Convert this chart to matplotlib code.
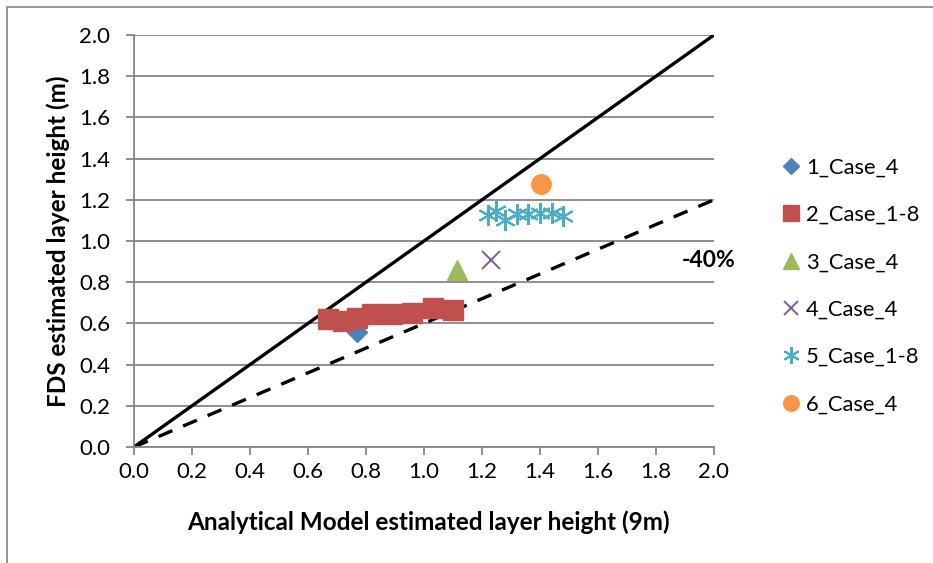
import matplotlib
matplotlib.use("Agg")
import matplotlib.pyplot as plt
from matplotlib.patches import Rectangle

plt.rcParams['font.family'] = ['Lato', 'DejaVu Sans']

# ---- data ----
s1_x = [0.77]
s1_y = [0.56]
s2_x = [0.67, 0.72, 0.77, 0.82, 0.89, 0.96, 1.03, 1.10]
s2_y = [0.62, 0.61, 0.625, 0.645, 0.645, 0.65, 0.673, 0.665]
s3_x = [1.115]
s3_y = [0.86]
s4_x = [1.23]
s4_y = [0.91]
s5_x = [1.22, 1.25, 1.28, 1.32, 1.36, 1.40, 1.44, 1.48]
s5_y = [1.125, 1.145, 1.10, 1.13, 1.13, 1.135, 1.135, 1.12]
s6_x = [1.405]
s6_y = [1.275]
labels = ["1_Case_4", "2_Case_1-8", "3_Case_4", "4_Case_4", "5_Case_1-8", "6_Case_4"]
ref_x = [0.0, 2.0]
ref_y = [0.0, 2.0]
minus40_y = [0.0, 1.2]
ticks = [0.0, 0.2, 0.4, 0.6, 0.8, 1.0, 1.2, 1.4, 1.6, 1.8, 2.0]

W, H = 933, 563
fig = plt.figure(figsize=(W / 100, H / 100), dpi=100)
ax = fig.add_axes([134 / W, 1 - 447 / H, (714 - 134) / W, (447 - 35) / H])

grid_c = '#868686'
ax.set_xlim(0, 2)
ax.set_ylim(0, 2)
ax.set_xticks(ticks)
ax.set_yticks(ticks)
ax.set_xticklabels([f"{t:.1f}" for t in ticks])
ax.set_yticklabels([f"{t:.1f}" for t in ticks])
ax.yaxis.grid(True, color=grid_c, lw=1.3, zorder=0)
ax.set_axisbelow(True)
for s in ['top', 'right']:
    ax.spines[s].set_visible(False)
for s in ['left', 'bottom']:
    ax.spines[s].set_color(grid_c)
    ax.spines[s].set_linewidth(1.3)
ax.tick_params(axis='both', direction='out', length=6, width=1.3, color=grid_c,
               labelsize=16, labelcolor='black')
ax.tick_params(axis='x', pad=5)
ax.tick_params(axis='y', pad=11)

ax.plot(ref_x, ref_y, color='black', lw=2.4, zorder=2)
ax.plot(ref_x, minus40_y, color='black', lw=2.4, ls=(0, (4.5, 3.5)), zorder=2)

ms = 14
h1, = ax.plot(s1_x, s1_y, ls='none', marker='D', ms=10, color='#4F81BD', zorder=3)
h2, = ax.plot(s2_x, s2_y, ls='none', marker='s', ms=ms, color='#C0504D', zorder=4)
h3, = ax.plot(s3_x, s3_y, ls='none', marker='^', ms=ms, color='#9BBB59', zorder=3)
h4, = ax.plot(s4_x, s4_y, ls='none', marker='x', ms=13, mew=1.5, color='#8064A2', zorder=3)
h5, = ax.plot(s5_x, s5_y, ls='none', marker=(6, 2, 0), ms=15, mew=1.5, color='#4BACC6', zorder=3)
h6, = ax.plot(s6_x, s6_y, ls='none', marker='o', ms=ms, color='#F79646', zorder=3)

ax.text(1.98, 0.905, "-40%", fontsize=16.5, fontweight='bold', ha='center', va='center', clip_on=False)

fig.text(428 / W, 1 - 522 / H, "Analytical Model estimated layer height (9m)",
         fontsize=17.5, fontweight='bold', ha='center', va='center')
fig.text(58 / W, 1 - 241 / H, "FDS estimated layer height (m)", rotation=90,
         fontsize=17.5, fontweight='bold', ha='center', va='center')

leg = fig.legend([h1, h2, h3, h4, h5, h6], labels, loc='center left',
                 bbox_to_anchor=(762 / W, 1 - 286 / H), frameon=False,
                 fontsize=15.8, handlelength=0.8, handletextpad=0.3,
                 labelspacing=1.25, markerscale=0.8)

fig.patches.append(Rectangle((7 / W, -0.1), 1.2, 1 - 7 / H + 0.1, transform=fig.transFigure,
                             fill=False, edgecolor='#8c8c8c', lw=1.3))

fig.savefig("out.png", dpi=100)
